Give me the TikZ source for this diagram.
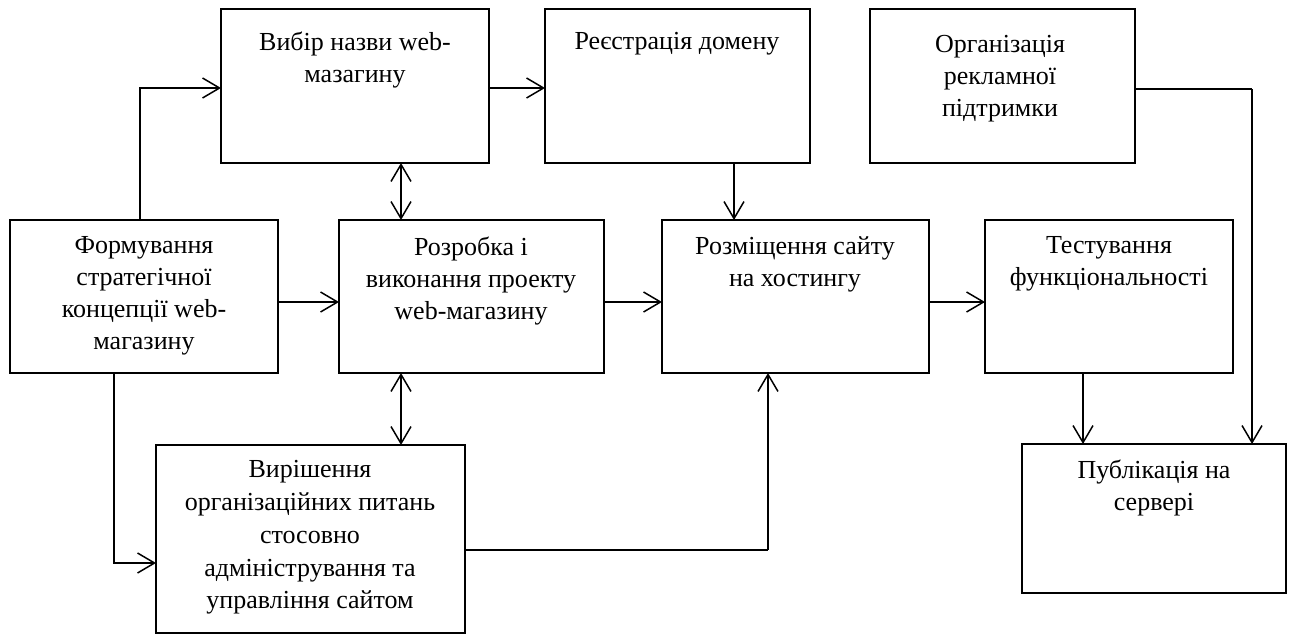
\documentclass[tikz,border=0pt]{standalone}
\usepackage{fontspec}
\setmainfont{Liberation Serif}
\usetikzlibrary{arrows.meta}
\begin{document}
\begin{tikzpicture}[x=0.5pt,y=-0.5pt,
  box/.style={draw,line width=1.4pt,inner sep=0pt,outer sep=0pt,anchor=north west},
  lbl/.style={align=center,inner sep=0pt,anchor=north,font=\fontsize{13}{16}\selectfont},
  loose/.style={font=\fontsize{13}{16.4}\selectfont},
  link/.style={line width=0.75pt},
  heavy/.style={line width=1.3pt},
  arr/.style={link,-{Straight Barb[length=8.5pt,width=10pt,line width=0.75pt]}},
  darr/.style={link,{Straight Barb[length=8.5pt,width=10pt,line width=0.75pt]}-{Straight Barb[length=8.5pt,width=10pt,line width=0.75pt]}}]
\useasboundingbox (0,0) rectangle (1293,637);

% process boxes
\node[box,minimum width=134pt,minimum height=77pt] (b1) at (221,9) {};
\node[box,minimum width=132.5pt,minimum height=77pt] (b2) at (545,9) {};
\node[box,minimum width=132.5pt,minimum height=77pt] (b3) at (870,9) {};
\node[box,minimum width=134pt,minimum height=76.5pt] (b4) at (10,220) {};
\node[box,minimum width=132.5pt,minimum height=76.5pt] (b5) at (339,220) {};
\node[box,minimum width=133.5pt,minimum height=76.5pt] (b6) at (662,220) {};
\node[box,minimum width=124pt,minimum height=76.5pt] (b7) at (985,220) {};
\node[box,minimum width=154.5pt,minimum height=94pt] (b8) at (156,445) {};
\node[box,minimum width=132pt,minimum height=74.5pt] (b9) at (1022,444) {};

% box captions
\node[lbl] (t1) at (355,31) {Вибір назви web-\\мазагину};
\node[lbl] (t2) at (677,32) {Реєстрація домену};
\node[lbl] (t3) at (1000,35) {Організація\\рекламної\\підтримки};
\node[lbl] (t4) at (144,236) {Формування\\стратегічної\\концепції web-\\магазину};
\node[lbl] (t5) at (471,236) {Розробка і\\виконання проекту\\web-магазину};
\node[lbl] (t6) at (795,236) {Розміщення сайту\\на хостингу};
\node[lbl] (t7) at (1109,236) {Тестування\\функціональності};
\node[lbl,loose] (t8) at (310,460) {Вирішення\\організаційних питань\\стосовно\\адміністрування та\\управління сайтом};
\node[lbl] (t9) at (1154,459) {Публікація на\\сервері};

% routing points
\coordinate (k1) at (140,88);
\coordinate (k2) at (401,0);
\coordinate (k3) at (734,0);
\coordinate (k4) at (0,302);
\coordinate (k5) at (114,563);
\coordinate (k6) at (768,550);
\coordinate (k7) at (1083,0);
\coordinate (k8) at (1252,89);

% connectors
\draw[arr] (b4.north -| k1) |- (b1.west |- k1);
\draw[arr] (b1.east |- k1) -- (b2.west |- k1);
\draw[darr] (b1.south -| k2) -- (b5.north -| k2);
\draw[darr] (b5.south -| k2) -- (b8.north -| k2);
\draw[arr] (b2.south -| k3) -- (b6.north -| k3);
\draw[arr] (b4.east |- k4) -- (b5.west |- k4);
\draw[arr] (b5.east |- k4) -- (b6.west |- k4);
\draw[arr] (b6.east |- k4) -- (b7.west |- k4);
\draw[arr] (b4.south -| k5) |- (b8.west |- k5);
\draw[heavy] (b8.east |- k6) -- (k6);
\draw[arr] (k6) -- (b6.south -| k6);
\draw[arr] (b7.south -| k7) -- (b9.north -| k7);
\draw[heavy] (b3.east |- k8) -- (k8);
\draw[arr] (k8) -- (b9.north -| k8);
\end{tikzpicture}
\end{document}
